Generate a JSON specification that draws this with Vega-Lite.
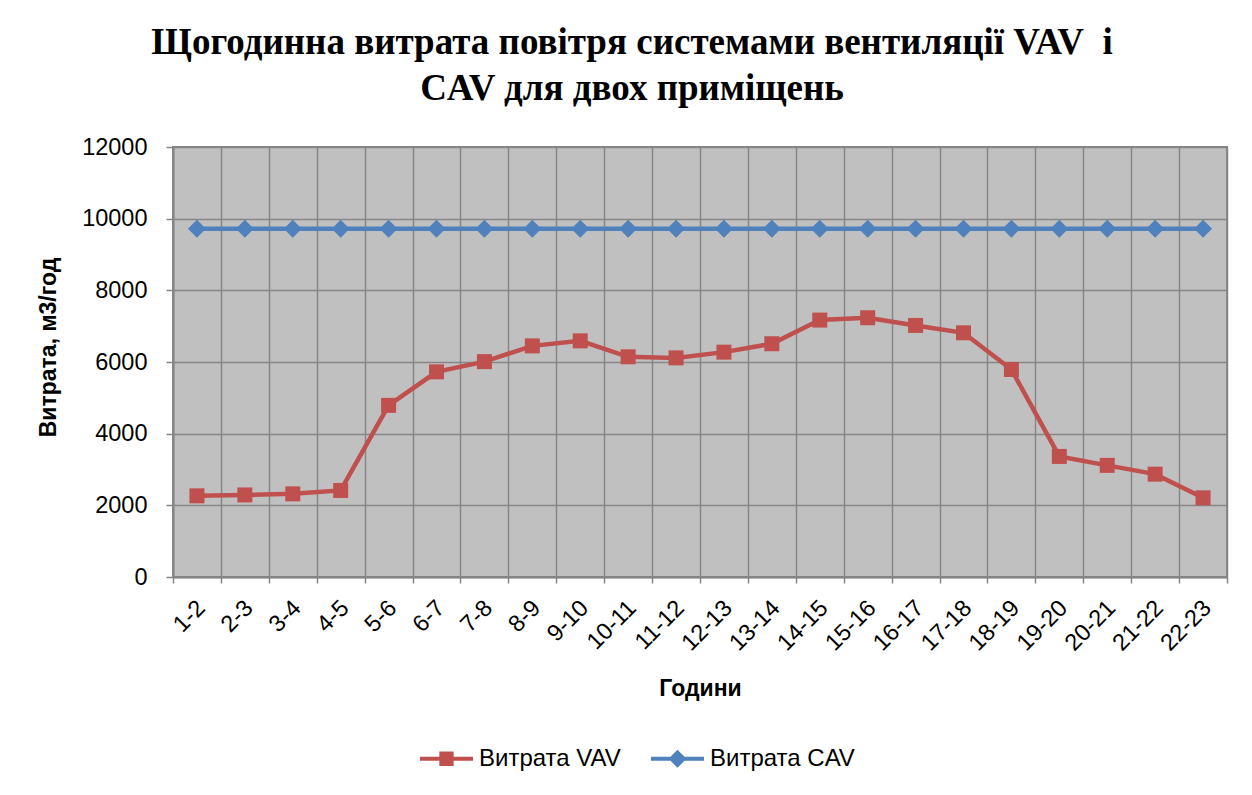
{
  "$schema": "https://vega.github.io/schema/vega-lite/v6.json",
  "autosize": "none",
  "width": 1054,
  "height": 430,
  "padding": {"left": 173, "top": 147, "right": 25, "bottom": 218},
  "background": "white",
  "title": {
    "text": ["Щогодинна витрата повітря системами вентиляції VAV\u00a0\u00a0і", "CAV для двох приміщень"],
    "font": "Liberation Serif",
    "fontSize": 37,
    "fontWeight": "bold",
    "color": "black",
    "anchor": "middle",
    "frame": "group",
    "dx": -68,
    "offset": 27,
    "lineHeight": 46
  },
  "config": {
    "view": {"fill": "#C0C0C0", "stroke": "#868686", "strokeWidth": 2},
    "font": "Liberation Sans"
  },
  "data": {
    "values": [
      {"h": "1-2", "s": "Витрата VAV", "v": 2265},
      {"h": "2-3", "s": "Витрата VAV", "v": 2290},
      {"h": "3-4", "s": "Витрата VAV", "v": 2320},
      {"h": "4-5", "s": "Витрата VAV", "v": 2415},
      {"h": "5-6", "s": "Витрата VAV", "v": 4790},
      {"h": "6-7", "s": "Витрата VAV", "v": 5725},
      {"h": "7-8", "s": "Витрата VAV", "v": 6010},
      {"h": "8-9", "s": "Витрата VAV", "v": 6450},
      {"h": "9-10", "s": "Витрата VAV", "v": 6590},
      {"h": "10-11", "s": "Витрата VAV", "v": 6145},
      {"h": "11-12", "s": "Витрата VAV", "v": 6115},
      {"h": "12-13", "s": "Витрата VAV", "v": 6275},
      {"h": "13-14", "s": "Витрата VAV", "v": 6510},
      {"h": "14-15", "s": "Витрата VAV", "v": 7170},
      {"h": "15-16", "s": "Витрата VAV", "v": 7235},
      {"h": "16-17", "s": "Витрата VAV", "v": 7020},
      {"h": "17-18", "s": "Витрата VAV", "v": 6815},
      {"h": "18-19", "s": "Витрата VAV", "v": 5790},
      {"h": "19-20", "s": "Витрата VAV", "v": 3365},
      {"h": "20-21", "s": "Витрата VAV", "v": 3115},
      {"h": "21-22", "s": "Витрата VAV", "v": 2870},
      {"h": "22-23", "s": "Витрата VAV", "v": 2210},
      {"h": "1-2", "s": "Витрата CAV", "v": 9720},
      {"h": "2-3", "s": "Витрата CAV", "v": 9720},
      {"h": "3-4", "s": "Витрата CAV", "v": 9720},
      {"h": "4-5", "s": "Витрата CAV", "v": 9720},
      {"h": "5-6", "s": "Витрата CAV", "v": 9720},
      {"h": "6-7", "s": "Витрата CAV", "v": 9720},
      {"h": "7-8", "s": "Витрата CAV", "v": 9720},
      {"h": "8-9", "s": "Витрата CAV", "v": 9720},
      {"h": "9-10", "s": "Витрата CAV", "v": 9720},
      {"h": "10-11", "s": "Витрата CAV", "v": 9720},
      {"h": "11-12", "s": "Витрата CAV", "v": 9720},
      {"h": "12-13", "s": "Витрата CAV", "v": 9720},
      {"h": "13-14", "s": "Витрата CAV", "v": 9720},
      {"h": "14-15", "s": "Витрата CAV", "v": 9720},
      {"h": "15-16", "s": "Витрата CAV", "v": 9720},
      {"h": "16-17", "s": "Витрата CAV", "v": 9720},
      {"h": "17-18", "s": "Витрата CAV", "v": 9720},
      {"h": "18-19", "s": "Витрата CAV", "v": 9720},
      {"h": "19-20", "s": "Витрата CAV", "v": 9720},
      {"h": "20-21", "s": "Витрата CAV", "v": 9720},
      {"h": "21-22", "s": "Витрата CAV", "v": 9720},
      {"h": "22-23", "s": "Витрата CAV", "v": 9720}
    ]
  },
  "encoding": {
    "x": {
      "field": "h",
      "type": "ordinal",
      "sort": null,
      "scale": {"paddingInner": 0, "paddingOuter": 0},
      "axis": {
        "title": "Години",
        "titleFont": "Liberation Sans",
        "titleFontSize": 23,
        "titleFontWeight": "bold",
        "titleColor": "black",
        "titleX": 527,
        "titleY": 111,
        "titleBaseline": "middle",
        "tickBand": "extent",
        "grid": true,
        "gridColor": "#868686",
        "gridWidth": 1.5,
        "domainColor": "#868686",
        "domainWidth": 2,
        "tickColor": "#868686",
        "tickWidth": 1.5,
        "tickSize": 6,
        "labelAngle": -45,
        "labelAlign": "right",
        "labelBaseline": "middle",
        "labelPadding": 21,
        "labelOffset": 4,
        "labelFontSize": 23.5,
        "labelColor": "black"
      }
    },
    "y": {
      "field": "v",
      "type": "quantitative",
      "scale": {"domain": [0, 12000]},
      "axis": {
        "title": "Витрата, м3/год",
        "titleFont": "Liberation Sans",
        "titleFontSize": 23,
        "titleFontWeight": "bold",
        "titleColor": "black",
        "titleAngle": -90,
        "titleX": -125,
        "titleY": 200,
        "titleAlign": "center",
        "titleBaseline": "middle",
        "values": [0, 2000, 4000, 6000, 8000, 10000, 12000],
        "format": "d",
        "grid": true,
        "gridColor": "#868686",
        "gridWidth": 1.5,
        "domainColor": "#868686",
        "domainWidth": 2,
        "tickColor": "#868686",
        "tickWidth": 1.5,
        "tickSize": 7,
        "labelPadding": 19,
        "labelFontSize": 23.5,
        "labelColor": "black"
      }
    },
    "color": {
      "field": "s",
      "type": "nominal",
      "scale": {"domain": ["Витрата VAV", "Витрата CAV"], "range": ["#C0504D", "#4F81BD"]},
      "legend": null
    }
  },
  "layer": [
    {
      "mark": {"type": "line", "strokeWidth": 4.5},
      "encoding": {"detail": {"field": "s"}}
    },
    {
      "mark": {"type": "point", "filled": true, "opacity": 1},
      "encoding": {
        "shape": {
          "field": "s",
          "type": "nominal",
          "scale": {"domain": ["Витрата VAV", "Витрата CAV"], "range": ["square", "diamond"]},
          "legend": null
        },
        "size": {
          "field": "s",
          "type": "nominal",
          "scale": {"domain": ["Витрата VAV", "Витрата CAV"], "range": [225, 324]},
          "legend": null
        }
      }
    },
    {
      "mark": {"type": "point", "filled": true, "opacity": 0, "size": 2809},
      "encoding": {
        "color": {
          "field": "s",
          "type": "nominal",
          "scale": {"domain": ["Витрата VAV", "Витрата CAV"], "range": ["#C0504D", "#4F81BD"]},
          "legend": {
            "title": null,
            "orient": "none",
            "direction": "horizontal",
            "legendX": 247,
            "legendY": 585,
            "labelFont": "Liberation Sans",
            "labelFontSize": 24,
            "labelColor": "black",
            "labelOffset": 6,
            "columnPadding": 30,
            "symbolSize": 2809,
            "symbolStrokeWidth": 0,
            "symbolOpacity": 1
          }
        },
        "shape": {
          "field": "s",
          "type": "nominal",
          "scale": {
            "domain": ["Витрата VAV", "Витрата CAV"],
            "range": [
              "M-1,-0.075H1V0.075H-1Z M-0.27,-0.27H0.27V0.27H-0.27Z",
              "M-1,-0.075H1V0.075H-1Z M0,-0.34L0.34,0L0,0.34L-0.34,0Z"
            ]
          },
          "legend": {
            "title": null,
            "orient": "none",
            "direction": "horizontal",
            "legendX": 247,
            "legendY": 585,
            "labelFont": "Liberation Sans",
            "labelFontSize": 24,
            "labelColor": "black",
            "labelOffset": 6,
            "columnPadding": 30,
            "symbolSize": 2809,
            "symbolStrokeWidth": 0,
            "symbolOpacity": 1
          }
        }
      }
    }
  ],
  "resolve": {"scale": {"shape": "independent", "size": "independent", "color": "independent"}}
}
